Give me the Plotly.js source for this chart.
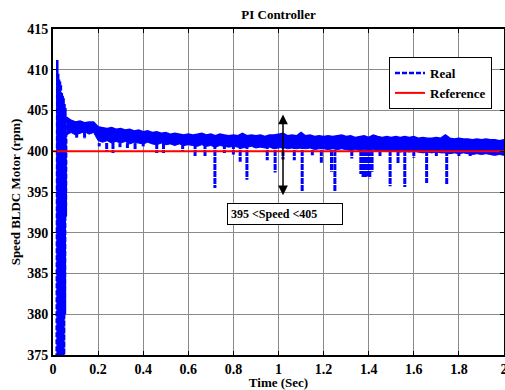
<!DOCTYPE html>
<html>
<head>
<meta charset="utf-8">
<script src="https://cdn.plot.ly/plotly-3.0.1.min.js"></script>
<style>html,body{margin:0;padding:0;background:#fff;}#chart{width:505px;height:390px;}</style>
</head>
<body>
<div id="chart"></div>
<script>
// ---- Data ----
// Start-up transient of the measured speed (s, rpm)
const transientTime = [0.015, 0.017, 0.019, 0.021, 0.023, 0.025, 0.027, 0.029, 0.031, 0.033, 0.035, 0.037, 0.039, 0.041, 0.043, 0.045, 0.047, 0.049, 0.051, 0.053, 0.055, 0.057, 0.059];
const transientSpeed = [360, 405.0, 411.2, 362, 409.5, 364, 408.8, 366, 408.6, 368, 408.2, 369, 407.2, 370, 406.8, 371, 406.5, 372, 405.8, 380, 405.3, 392, 404.2];

// Dense ripple band of the measured speed after start-up
const bandTime = [0.06, 0.08, 0.10, 0.12, 0.14, 0.16, 0.18, 0.20, 0.22, 0.24, 0.26, 0.28, 0.30, 0.32, 0.34, 0.36, 0.38, 0.40, 0.42, 0.44,
  0.46, 0.48, 0.50, 0.52, 0.54, 0.56, 0.58, 0.60, 0.62, 0.64, 0.66, 0.68, 0.70, 0.72, 0.74, 0.76, 0.78, 0.80, 0.82, 0.84,
  0.86, 0.88, 0.90, 0.92, 0.94, 0.96, 0.98, 1.00, 1.02, 1.04, 1.06, 1.08, 1.10, 1.12, 1.14, 1.16, 1.18, 1.20, 1.22, 1.24,
  1.26, 1.28, 1.30, 1.32, 1.34, 1.36, 1.38, 1.40, 1.42, 1.44, 1.46, 1.48, 1.50, 1.52, 1.54, 1.56, 1.58, 1.60, 1.62, 1.64,
  1.66, 1.68, 1.70, 1.72, 1.74, 1.76, 1.78, 1.80, 1.82, 1.84, 1.86, 1.88, 1.90, 1.92, 1.94, 1.96, 1.98, 2.00];
const bandUpper = [404.2, 403.8, 403.6, 403.7, 403.5, 403.6, 403.6, 403.0, 402.9, 402.8, 402.9, 402.7, 402.8, 402.6, 402.7, 402.5, 402.6, 402.4, 402.5, 402.3,
  402.4, 402.2, 402.3, 402.1, 402.2, 402.1, 402.0, 402.1, 402.0, 402.1, 402.2, 402.0, 402.1, 401.9, 402.1, 402.0, 401.9, 402.0, 401.9, 402.2,
  401.9, 402.0, 401.9, 402.0, 401.8, 402.0, 402.0, 402.1, 402.2, 401.9, 402.0, 401.9, 402.3, 401.9, 402.0, 401.8, 401.9, 401.8, 401.9, 401.8,
  401.9, 402.0, 401.8, 401.9, 401.7, 401.8, 401.9, 401.7, 402.0, 401.8, 401.7, 401.8, 401.7, 401.8, 401.7, 401.8, 401.7, 401.8, 401.6, 401.7,
  401.6, 401.6, 401.7, 401.6, 402.0, 401.6, 401.5, 401.6, 401.5, 401.5, 401.4, 401.5, 401.4, 401.5, 401.4, 401.4, 401.3, 401.4];
const bandLower = [402.0, 402.3, 402.0, 402.2, 402.4, 402.1, 402.3, 401.3, 401.1, 401.3, 401.0, 401.2, 401.0, 401.2, 400.9, 401.1, 401.0, 400.9, 401.1, 400.9,
  400.8, 401.0, 400.8, 400.9, 400.7, 400.9, 400.7, 400.8, 400.7, 400.6, 400.8, 400.6, 400.7, 400.5, 400.7, 400.6, 400.5, 400.6, 400.5, 400.4,
  400.5, 400.6, 400.4, 400.5, 400.4, 400.5, 400.3, 400.4, 400.5, 400.3, 400.4, 400.3, 400.4, 400.3, 400.4, 400.2, 400.3, 400.3, 400.2, 400.3,
  400.2, 400.3, 400.2, 400.1, 400.2, 400.1, 400.2, 400.1, 400.2, 400.0, 400.1, 400.0, 400.1, 400.0, 399.9, 400.0, 399.9, 400.0, 399.9, 399.8,
  399.9, 399.8, 399.9, 399.8, 399.8, 399.7, 399.8, 399.7, 399.8, 399.7, 399.6, 399.7, 399.6, 399.7, 399.6, 399.5, 399.6, 399.5];

// Downward speed dips (time, lowest speed)
const dipTime = [0.105, 0.14, 0.205, 0.238, 0.266, 0.297, 0.33, 0.364, 0.40, 0.46, 0.49, 0.575, 0.63, 0.674, 0.718, 0.76, 0.80, 0.83, 0.86,
  0.95, 0.985, 1.02, 1.07, 1.105, 1.15, 1.19, 1.235, 1.25, 1.325, 1.365, 1.375, 1.385, 1.395, 1.405, 1.415, 1.45, 1.495,
  1.53, 1.56, 1.60, 1.657, 1.70, 1.746, 1.80, 1.85, 1.95];
const dipSpeed = [401.6, 401.5, 400.6, 400.0, 399.8, 400.5, 400.4, 400.2, 400.6, 399.8, 399.8, 400.0, 399.3, 399.3, 395.5, 399.8, 399.6, 398.7, 396.5,
  398.9, 397.4, 399.0, 398.9, 395.1, 399.5, 398.6, 397.5, 395.0, 399.1, 397.2, 396.8, 396.8, 396.9, 396.7, 397.5, 399.3, 395.7,
  398.5, 395.6, 399.2, 396.1, 399.3, 395.9, 399.4, 399.3, 399.5];

// Reference speed
const refTime = [0, 2];
const refSpeed = [400, 400];

// Axis ticks
const xTicks = [0, 0.2, 0.4, 0.6, 0.8, 1, 1.2, 1.4, 1.6, 1.8, 2];
const xTickText = ['0', '0.2', '0.4', '0.6', '0.8', '1', '1.2', '1.4', '1.6', '1.8', '2'];
const yTicks = [375, 380, 385, 390, 395, 400, 405, 410, 415];

// ---- Build traces ----
const BLUE = '#0000ff';
const dipX = [], dipY = [];
for (let i = 0; i < dipTime.length; i++) {
  const top = dipTime[i] < 0.19 ? 402.4 : 401.0;
  dipX.push(dipTime[i], dipTime[i], null);
  dipY.push(top, dipSpeed[i], null);
}

const font = 'Liberation Serif, Times New Roman, serif';

const traces = [
  { x: bandTime, y: bandLower, type: 'scatter', mode: 'lines', line: { color: BLUE, width: 1 }, showlegend: false, hoverinfo: 'skip' },
  { x: bandTime, y: bandUpper, type: 'scatter', mode: 'lines', fill: 'tonexty', fillcolor: BLUE, line: { color: BLUE, width: 1.5 }, showlegend: false, hoverinfo: 'skip' },
  { x: dipX, y: dipY, type: 'scatter', mode: 'lines', connectgaps: false, line: { color: BLUE, width: 3, dash: '6px,1px' }, showlegend: false, hoverinfo: 'skip' },
  { x: transientTime, y: transientSpeed, type: 'scatter', mode: 'lines', name: 'Real', line: { color: BLUE, width: 2.5, dash: '5px,2px' } },
  { x: refTime, y: refSpeed, type: 'scatter', mode: 'lines', name: 'Reference', line: { color: '#ff0000', width: 2 } }
];

const axisCommon = {
  showline: true, linecolor: '#000', linewidth: 2, mirror: 'ticks',
  ticks: 'inside', ticklen: 4, tickcolor: '#000',
  showgrid: true, gridcolor: '#8a8a8a', gridwidth: 1,
  zeroline: false, ticklabeloverflow: 'allow',
  tickfont: { family: font, size: 14, color: '#000', weight: 'bold' }
};

const layout = {
  width: 505, height: 390,
  margin: { l: 53, r: 1, t: 29, b: 35 },
  paper_bgcolor: '#fff', plot_bgcolor: '#fff',
  title: { text: 'PI Controller', font: { family: font, size: 13, color: '#000', weight: 'bold' }, x: 0.5, xref: 'paper', y: 0.964, yref: 'container', yanchor: 'middle' },
  xaxis: Object.assign({}, axisCommon, {
    range: [0, 2], tickvals: xTicks, ticktext: xTickText, automargin: false,
    title: { text: 'Time (Sec)', font: { family: font, size: 13, color: '#000', weight: 'bold' }, standoff: 0 }
  }),
  yaxis: Object.assign({}, axisCommon, {
    range: [375, 415], tickvals: yTicks, automargin: false,
    title: { text: 'Speed BLDC Motor (rpm)', font: { family: font, size: 13, color: '#000', weight: 'bold' }, standoff: 4 }
  }),
  legend: {
    x: 0.745, y: 0.914, xanchor: 'left', yanchor: 'top', traceorder: 'normal',
    bgcolor: '#fff', bordercolor: '#000', borderwidth: 1,
    font: { family: font, size: 13, color: '#000', weight: 'bold' },
    tracegroupgap: 0, itemwidth: 30
  },
  annotations: [
    { x: 1.02, y: 394.6, ax: 1.02, ay: 404.7, xref: 'x', yref: 'y', axref: 'x', ayref: 'y',
      text: '', showarrow: true, arrowhead: 2, startarrowhead: 2, arrowside: 'end+start', arrowsize: 1.3, arrowwidth: 1.5, arrowcolor: '#000' },
    { x: 1.029, y: 392.3, xref: 'x', yref: 'y', text: '395 <Speed <405', showarrow: false,
      font: { family: font, size: 12, color: '#000', weight: 'bold' },
      bgcolor: '#fff', bordercolor: '#000', borderwidth: 1, borderpad: 3, width: 108, align: 'left' }
  ],
  showlegend: true
};

Plotly.newPlot('chart', traces, layout, { displayModeBar: false, staticPlot: true });
</script>
</body>
</html>
